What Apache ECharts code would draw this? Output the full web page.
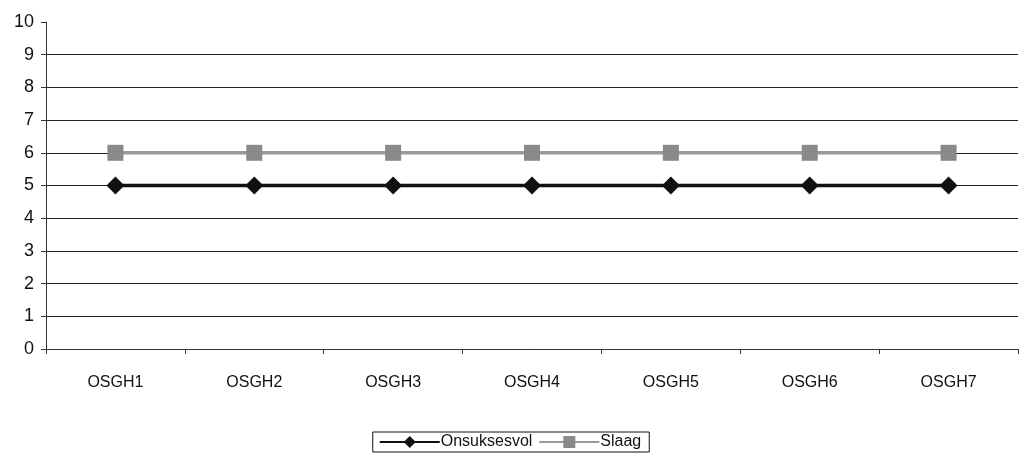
<!DOCTYPE html>
<html>
<head>
<meta charset="utf-8">
<script src="https://cdn.jsdelivr.net/npm/echarts@6/dist/echarts.min.js"></script>
<style>
  html, body { margin: 0; padding: 0; background: #fff; }
  #chart { width: 1020px; height: 454px; }
</style>
</head>
<body>
<div id="chart"></div>
<script>
// Categories and series values
const categories = ['OSGH1', 'OSGH2', 'OSGH3', 'OSGH4', 'OSGH5', 'OSGH6', 'OSGH7'];
const onsuksesvol = [5, 5, 5, 5, 5, 5, 5];
const slaag = [6, 6, 6, 6, 6, 6, 6];
const yTicks = [0, 1, 2, 3, 4, 5, 6, 7, 8, 9, 10];

// Gridlines on every integer except the top one
const gridColors = yTicks.map(v => (v === 10 ? 'rgba(0,0,0,0)' : '#222'));

const chart = echarts.init(document.getElementById('chart'), null, { renderer: 'canvas' });
chart.setOption({
  animation: false,
  textStyle: { fontFamily: 'Liberation Sans, Arial, sans-serif', color: '#111' },
  grid: { left: 46, right: 2, top: 22, bottom: 105, containLabel: false },
  xAxis: {
    type: 'category',
    data: categories,
    boundaryGap: true,
    axisLine: { show: true, lineStyle: { color: '#333', width: 1 } },
    axisTick: { show: true, length: 5, alignWithLabel: false, lineStyle: { color: '#333' } },
    axisLabel: { fontSize: 16, color: '#111', margin: 26 }
  },
  yAxis: {
    type: 'value',
    min: 0,
    max: 10,
    interval: 1,
    axisLine: { show: true, lineStyle: { color: '#333', width: 1 } },
    axisTick: { show: true, length: 5, inside: false, lineStyle: { color: '#333' } },
    axisLabel: { fontSize: 18, color: '#111', margin: 12 },
    splitLine: { show: true, lineStyle: { color: gridColors, width: 1 } }
  },
  legend: {
    bottom: 2,
    left: 'center',
    data: ['Onsuksesvol', 'Slaag'],
    orient: 'horizontal',
    itemWidth: 60,
    itemHeight: 15,
    itemGap: 6,
    padding: [2, 8, 2, 6],
    borderColor: '#111',
    borderWidth: 1,
    borderRadius: 0,
    textStyle: { fontSize: 16, color: '#111', padding: [0, 0, 0, -4] }
  },
  series: [
    {
      name: 'Onsuksesvol',
      type: 'line',
      data: onsuksesvol,
      symbol: 'diamond',
      symbolSize: 18,
      itemStyle: { color: '#111' },
      lineStyle: { color: '#111', width: 3.5 },
      z: 3
    },
    {
      name: 'Slaag',
      type: 'line',
      data: slaag,
      symbol: 'rect',
      symbolSize: 16,
      itemStyle: { color: '#8a8a8a' },
      lineStyle: { color: '#999', width: 3.5 },
      z: 2
    }
  ]
});
</script>
</body>
</html>
